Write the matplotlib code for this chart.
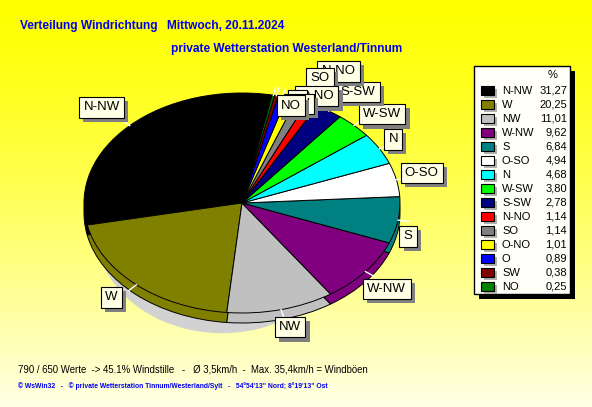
import numpy as np
import matplotlib.pyplot as plt
from matplotlib.patches import Rectangle, Ellipse
from matplotlib import patheffects as pe

directions = ["N-NW", "W", "NW", "W-NW", "S", "O-SO", "N", "W-SW",
              "S-SW", "N-NO", "SO", "O-NO", "O", "SW", "NO"]
percent = [31.27, 20.25, 11.01, 9.62, 6.84, 4.94, 4.68, 3.80,
           2.78, 1.14, 1.14, 1.01, 0.89, 0.38, 0.25]
colors = ["#000000", "#808000", "#c0c0c0", "#800080", "#008080", "#ffffff",
          "#00ffff", "#00ff00", "#000080", "#ff0000", "#808080", "#ffff00",
          "#0000ff", "#800000", "#008000"]

title_1 = "Verteilung Windrichtung"
title_date = "Mittwoch, 20.11.2024"
title_2 = "private Wetterstation Westerland/Tinnum"
footer_1 = "790 / 650 Werte  -> 45.1% Windstille   -   Ø 3,5km/h  -  Max. 35,4km/h = Windböen"
footer_2 = "© WsWin32   -   © private Wetterstation Tinnum/Westerland/Sylt   -   54°54'13\" Nord; 8°19'13\" Ost"

# layout (pixels)
W, H = 592, 407
CX, CY = 242, 203      # pie centre
RX, RY = 158, 110      # pie radii
DEPTH = 10             # 3d side height
START = 79
# label nudges (px) after placing along the slice middle
nudge = [(3, -12), (-6, 6), (6, 9), (-12, 12), (-11, 15), (-8, -5), (-6, -5),
         (-4, -5), (1, -12), (0, -25), (0, -15), (0, 6), (12, 12), (20, 17), (15, 19)]

FONT = ["Liberation Sans", "DejaVu Sans"]
BLUE = "#0000f0"

fig = plt.figure(figsize=(W / 100, H / 100), dpi=100)

# background gradient yellow -> cream
bg = fig.add_axes([0, 0, 1, 1])
grad = np.linspace(0, 1, 256) ** 1.3
img = np.zeros((256, 1, 3))
img[:, 0, 0] = 1
img[:, 0, 1] = 1
img[:, 0, 2] = grad * 0.9
bg.imshow(img, aspect="auto", extent=[0, 1, 0, 1], origin="upper")
bg.set_axis_off()

# pie axes, units = pie radius, aspect auto -> ellipse
ax = fig.add_axes([0, 0, 1, 1])
ax.patch.set_alpha(0)
# soft drop shadow below the pie
ax.add_patch(Ellipse((-20 / RX, -25 / RY), 1.6, 1.9, color="#d2d2d2", zorder=0))
ax.pie(percent, colors=colors, startangle=START, counterclock=True,
       center=(0, -DEPTH / RY), radius=1,
       wedgeprops=dict(edgecolor="black", linewidth=0.7))
wedges, _ = ax.pie(percent, colors=colors, startangle=START, counterclock=True,
                   radius=1, wedgeprops=dict(edgecolor="black", linewidth=0.7))
ax.set_aspect("auto")
ax.set_xlim(-CX / RX, (W - CX) / RX)
ax.set_ylim((CY - H) / RY, CY / RY)
ax.set_axis_off()

# overlay in pixel coords (y from top)
ov = fig.add_axes([0, 0, 1, 1])
ov.patch.set_alpha(0)
ov.set_xlim(0, W)
ov.set_ylim(H, 0)
ov.set_axis_off()

# labels at each slice
for i, w in enumerate(wedges):
    ang = np.deg2rad((w.theta1 + w.theta2) / 2)
    c, s = np.cos(ang), np.sin(ang)
    x0, y0 = CX + c * RX, CY - s * RY
    x1, y1 = CX + c * RX * 1.07, CY - s * RY * 1.07
    ov.plot([x0, x1], [y0, y1], color="white", lw=1, zorder=2)
    ha = "left" if c > 0.3 else ("right" if c < -0.3 else "center")
    shift = {"left": 4, "right": -4, "center": 0}[ha]
    lx = CX + c * RX * 1.08 + nudge[i][0] + shift
    ly = CY - s * RY * 1.08 + nudge[i][1]
    t = ov.text(lx, ly, directions[i], ha=ha, va="center", fontsize=9.5,
                family=FONT, color="black", zorder=3 + i,
                bbox=dict(boxstyle="square,pad=0.32", fc="#ffffe6", ec="black", lw=0.8))
    t.get_bbox_patch().set_path_effects(
        [pe.SimplePatchShadow(offset=(3, -3), shadow_rgbFace="#808080", alpha=1), pe.Normal()])

# legend box
ov.add_patch(Rectangle((479, 71), 96, 228, fc="black", ec="none", zorder=20))
ov.add_patch(Rectangle((474, 66), 96, 228, fc="#fffff8", ec="black", lw=1, zorder=21))
ov.text(553, 75, "%", ha="center", va="center", fontsize=8, family=FONT, zorder=22)
for i, name in enumerate(directions):
    y = 90.7 + i * 14.0
    ov.add_patch(Rectangle((484, y - 1.5), 13, 9, fc="#b0b0b0", ec="none", zorder=22))
    ov.add_patch(Rectangle((481, y - 4.5), 13, 9, fc=colors[i], ec="black", lw=0.8, zorder=23))
    ov.text(502, y, name, ha="left", va="center", fontsize=8, family=FONT, zorder=23)
    ov.text(567, y, f"{percent[i]:.2f}".replace(".", ","), ha="right", va="center",
            fontsize=8, family=FONT, zorder=23)

# titles and footer
ov.text(20, 26, title_1, ha="left", va="center", fontsize=8.6, fontweight="bold",
        family=FONT, color=BLUE)
ov.text(167, 26, title_date, ha="left", va="center", fontsize=8.6, fontweight="bold",
        family=FONT, color=BLUE)
ov.text(171, 49, title_2, ha="left", va="center", fontsize=8.6, fontweight="bold",
        family=FONT, color=BLUE)
ov.text(18, 370, footer_1, ha="left", va="center", fontsize=6.9, family=FONT, color="black")
ov.text(18, 386, footer_2, ha="left", va="center", fontsize=4.9, fontweight="bold",
        family=FONT, color=BLUE)

fig.savefig("out.png", dpi=100)
